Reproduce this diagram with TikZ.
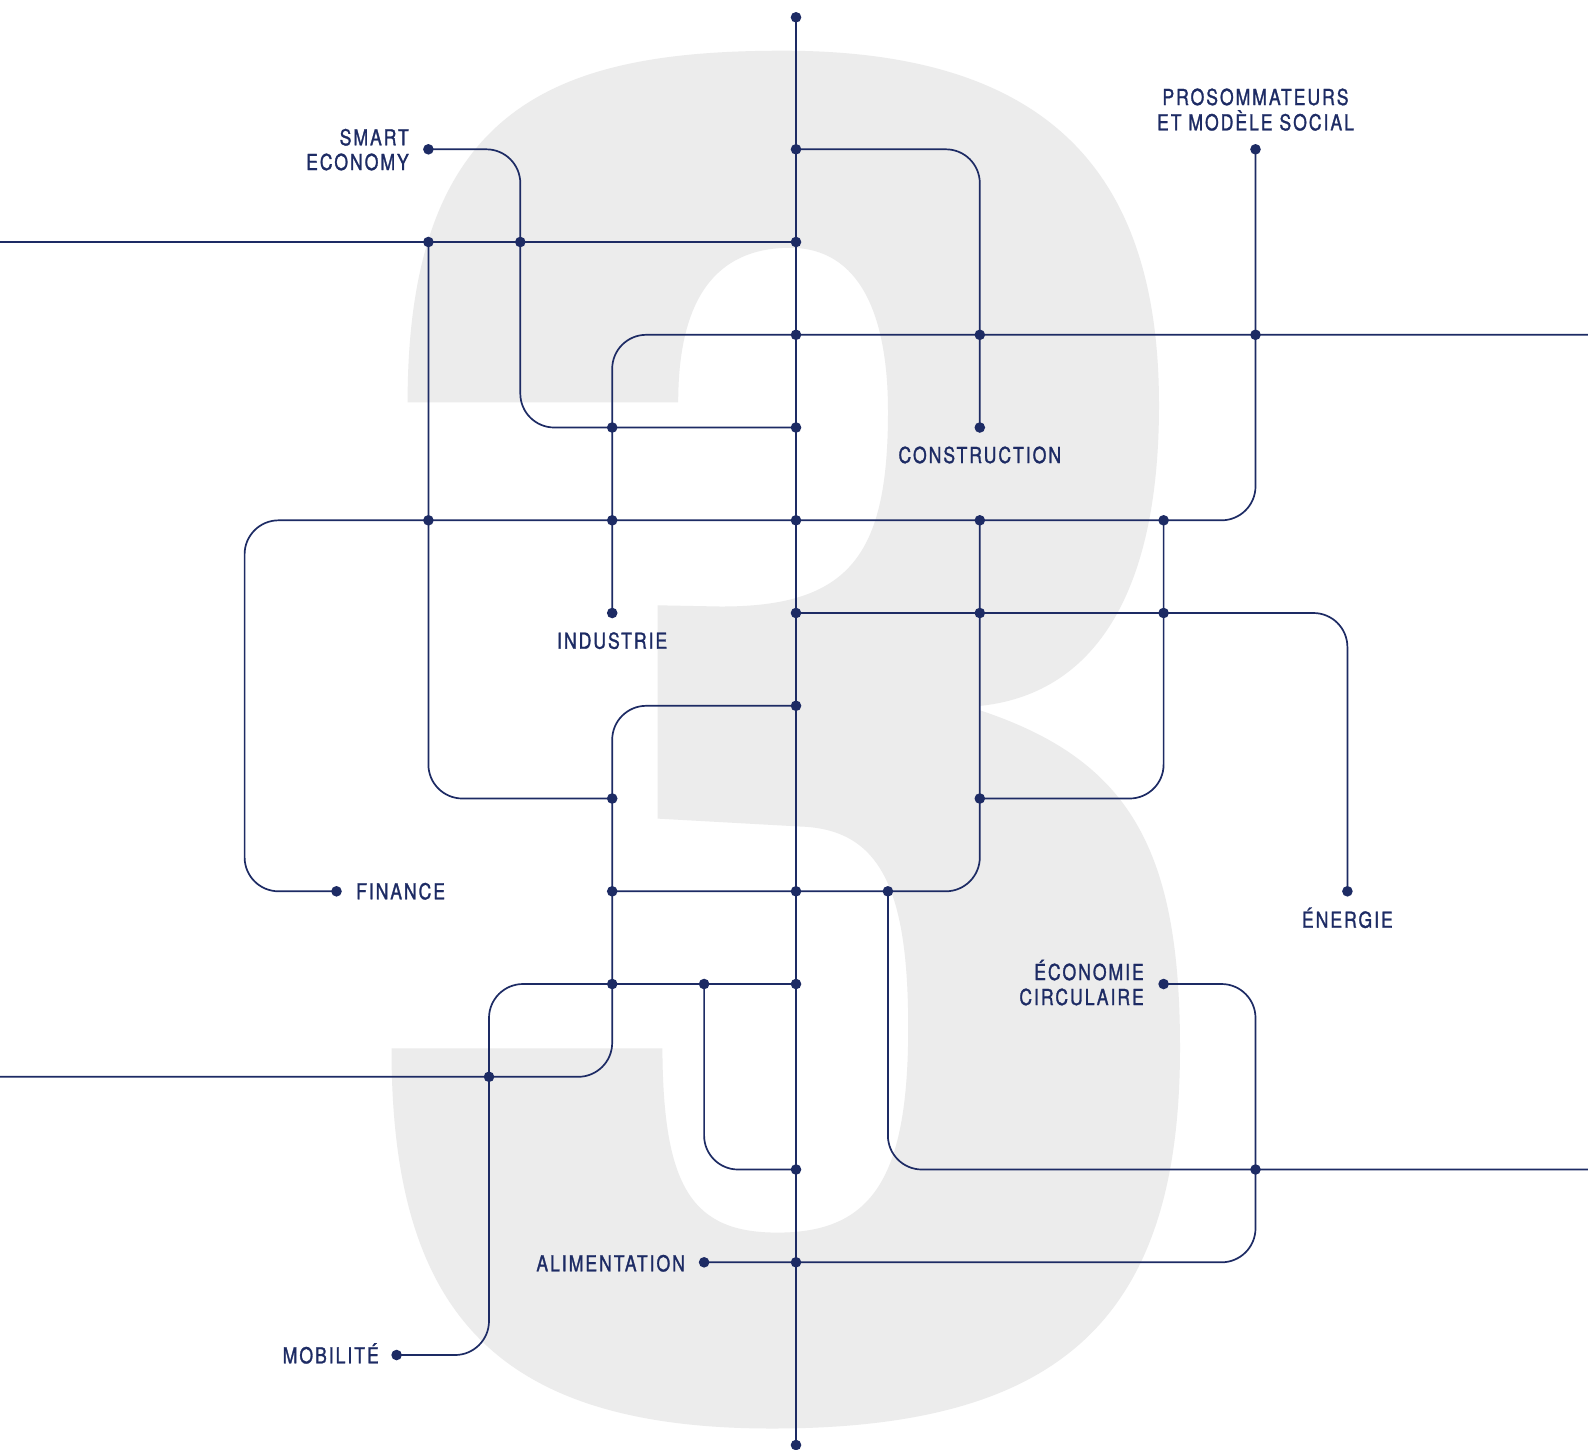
\documentclass[tikz,border=0pt]{standalone}
\usepackage{fontspec}
\newfontfamily\lblfont[FakeStretch=0.8,LetterSpace=9,FakeBold=1.3]{TeX Gyre Heros}
\definecolor{navy}{RGB}{29,43,100}
\definecolor{ghost}{RGB}{236,236,236}
\begin{document}
\begin{tikzpicture}[x=1pt,y=-1pt,
  link/.style={draw=navy,line width=1.7pt,rounded corners=34pt},
  dot/.style={circle,fill=navy,inner sep=0pt,minimum size=10.6pt},
  lbl/.style={text=navy,font=\lblfont\fontsize{22}{26}\selectfont,inner sep=0pt}]
\useasboundingbox (0,0) rectangle (1588,1449);
\fill[white] (0,0) rectangle (1588,1449);
% big grey "3"
\fill[ghost] (407.6,402.3) .. controls (407.6,104) and (558,50.7) .. (783,50.7)
  .. controls (1054.4,50.7) and (1159,178) .. (1159,405)
  .. controls (1159,600) and (1090,695) .. (979,706)
  -- (979,710)
  .. controls (1129,759.5) and (1180,848) .. (1180,1048)
  .. controls (1180,1318) and (1062,1428.5) .. (772,1428.5)
  .. controls (492,1428.5) and (391.5,1308.4) .. (391.5,1048.4)
  -- (662.4,1048.4)
  .. controls (663,1188.4) and (692.5,1232.6) .. (777.5,1232.6)
  .. controls (872.5,1232.6) and (908.2,1177.7) .. (908.2,1027.7)
  .. controls (908.2,888) and (880,829) .. (800,826.5)
  -- (657.5,818.6) -- (657.5,605.3) -- (720,606.5)
  .. controls (850,607) and (888,555) .. (888,411.7)
  .. controls (888,315) and (860,247.8) .. (790,247.8)
  .. controls (715,247.8) and (678.2,300) .. (678.2,402.3)
  -- cycle;
% grid coordinates
\foreach \i/\x in {0/244.6,1/336.5,2/428.4,3/520.3,4/612.2,5/704.1,6/796,7/887.9,8/979.8,9/1071.7,10/1163.6,11/1255.5,12/1347.4}{
  \foreach \j/\y in {0/149.3,1/242,2/334.8,3/427.5,4/520.3,5/613,6/705.8,7/798.5,8/891.3,9/984,10/1076.8,11/1169.5,12/1262.3,13/1355}{
    \coordinate (g\i-\j) at (\x,\y);
  }
}
\coordinate (top) at (796,17.3);
\coordinate (bot) at (796,1445);
\coordinate (L1) at (0,242);
\coordinate (L10) at (0,1076.8);
\coordinate (E2) at (1588,334.8);
\coordinate (E11) at (1588,1169.5);
\coordinate (h9) at (489,984);
\coordinate (h10) at (489,1076.8);
\coordinate (h13) at (489,1355);
\coordinate (mobd) at (396.6,1355);
% connectors
\draw[link] (top) -- (bot);
\draw[link] (g2-0) -- (g3-0) -- (g3-3) -- (g6-3);
\draw[link] (L1) -- (g6-1);
\draw[link] (g2-1) -- (g2-7) -- (g4-7);
\draw[link] (g6-0) -- (g8-0) -- (g8-3);
\draw[link] (g4-5) -- (g4-2) -- (E2);
\draw[link] (g11-0) -- (g11-4) -- (g0-4) -- (g0-8) -- (g1-8);
\draw[link] (g6-5) -- (g12-5) -- (g12-8);
\draw[link] (g8-4) -- (g8-8) -- (g4-8);
\draw[link] (g10-4) -- (g10-7) -- (g8-7);
\draw[link] (g6-6) -- (g4-6) -- (g4-10) -- (L10);
\draw[link] (g7-8) -- (g7-11) -- (E11);
\draw[link] (g10-9) -- (g11-9) -- (g11-12) -- (g5-12);
\draw[link] (g6-9) -- (h9) -- (h13) -- (mobd);
\draw[link] (g5-9) -- (g5-11) -- (g6-11);
% dots
\foreach \p in {top,bot,g2-0,g6-0,g11-0,g2-1,g3-1,g6-1,g6-2,g8-2,g11-2,g4-3,g6-3,g8-3,g2-4,g4-4,g6-4,g8-4,g10-4,g4-5,g6-5,g8-5,g10-5,g6-6,g4-7,g8-7,g1-8,g4-8,g6-8,g7-8,g12-8,g4-9,g5-9,g6-9,g10-9,h10,g6-11,g11-11,g5-12,g6-12,mobd}
  \node[dot] (dot-\p) at (\p) {};
% labels
\node[lbl,anchor=base east] (smart) at (409,145.3) {SMART};
\node[lbl,anchor=base east] (economy) at (409,170) {ECONOMY};
\node[lbl,anchor=base] (prosom) at (1255.5,105) {PROSOMMATEURS};
\node[lbl,anchor=base] (etmod) at (1255.5,130.3) {ET MODÈLE SOCIAL};
\node[lbl,anchor=base] (constr) at (979.8,463) {CONSTRUCTION};
\node[lbl,anchor=base] (indus) at (612.2,648.7) {INDUSTRIE};
\node[lbl,anchor=base west] (fin) at (356,899.3) {FINANCE};
\node[lbl,anchor=base] (ener) at (1347.4,927.7) {ÉNERGIE};
\node[lbl,anchor=base east] (eco1) at (1144,980) {ÉCONOMIE};
\node[lbl,anchor=base east] (eco2) at (1144,1005) {CIRCULAIRE};
\node[lbl,anchor=base east] (alim) at (685.1,1271.3) {ALIMENTATION};
\node[lbl,anchor=base east] (mobl) at (379,1363.3) {MOBILITÉ};
\end{tikzpicture}
\end{document}
